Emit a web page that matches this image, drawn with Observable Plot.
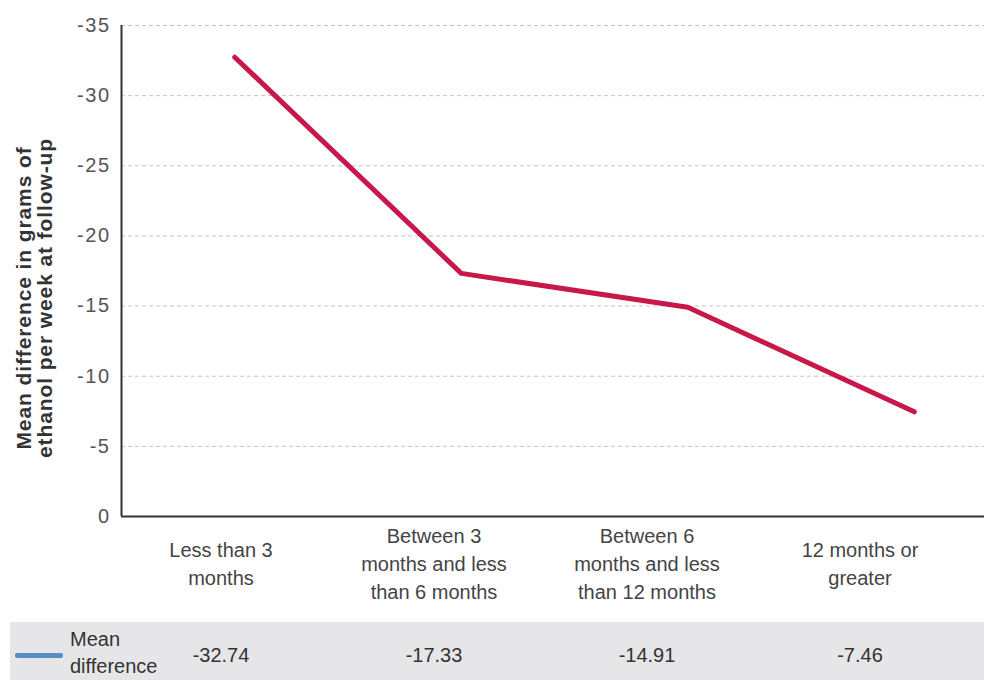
<!DOCTYPE html>
<html>
<head>
<meta charset="utf-8">
<script src="https://cdn.jsdelivr.net/npm/d3@7"></script>
<script src="https://cdn.jsdelivr.net/npm/@observablehq/plot@0.6"></script>
<style>
  body { margin: 0; background: #fff; font-family: "Liberation Sans", Arial, sans-serif; }
  #wrap { position: relative; width: 984px; height: 680px; overflow: hidden; background: #fff; }
  #chart, #axis { position: absolute; left: 0; }
  #chart { top: 0; }
  #axis { top: 530px; }
  #tablebg { position: absolute; left: 10px; top: 622px; width: 974px; height: 58px; background: #e6e6e9; }
  #swatch { position: absolute; left: 5px; top: 31px; width: 48px; height: 5px; background: #5a8cc4; border-radius: 2px; }
  #legtext { position: absolute; left: 60px; top: 4px; font-size: 20px; line-height: 27px; color: #333; }
  svg text { font-family: "Liberation Sans", Arial, sans-serif; }
</style>
</head>
<body>
<div id="wrap">
  <div id="tablebg"><div id="swatch"></div><div id="legtext"></div></div>
  <div id="chart"></div>
  <div id="axis"></div>
</div>
<script>
const categories = ["Less than 3 months", "Between 3 months and less than 6 months", "Between 6 months and less than 12 months", "12 months or greater"];
const tickLabels = ["Less than 3\nmonths", "Between 3\nmonths and less\nthan 6 months", "Between 6\nmonths and less\nthan 12 months", "12 months or\ngreater"];
const meanDifference = [-32.74, -17.33, -14.91, -7.46];
const yTicks = [-35, -30, -25, -20, -15, -10, -5, 0];
const seriesName = "Mean difference";
const yLabel = "Mean difference in grams of\nethanol per week at follow-up";

const rows = meanDifference.map((v, i) => ({i, v, c: categories[i]}));

const chart = Plot.plot({
  width: 984, height: 530,
  marginTop: 25, marginBottom: 14, marginLeft: 121, marginRight: 0,
  style: {background: "transparent", overflow: "visible"},
  x: {type: "linear", domain: [-0.5, 3.31], axis: null},
  y: {domain: [0, -35], axis: null},
  marks: [
    Plot.gridY(yTicks.filter(d => d !== 0), {stroke: "#c4c4c4", strokeOpacity: 1, strokeDasharray: "4,3"}),
    Plot.axisY(yTicks, {tickSize: 0, tickPadding: 11, fontSize: 20, fill: "#555", tickFormat: d => String(d), label: null}),
    Plot.ruleX([-0.5], {stroke: "#333", strokeWidth: 2}),
    Plot.ruleY([0], {stroke: "#333", strokeWidth: 2}),
    Plot.line(rows, {x: "i", y: "v", stroke: "#c8184a", strokeWidth: 5, strokeLinecap: "round", strokeLinejoin: "round"}),
    Plot.text([yLabel], {frameAnchor: "left", rotate: -90, dx: -87, dy: 27, fontWeight: "bold", fontSize: 21, lineHeight: 1, fill: "#333", lineAnchor: "middle", textAnchor: "middle"})
  ]
});
d3.select(chart).selectAll('g[aria-label="y-axis tick label"] text').style("letter-spacing", "1.5px");
d3.select(chart).selectAll('g[aria-label="text"] text').style("letter-spacing", "0.9px");
document.getElementById("chart").append(chart);

const axis = Plot.plot({
  width: 984, height: 150,
  marginTop: 0, marginBottom: 0, marginLeft: 113, marginRight: 17,
  style: {background: "transparent", overflow: "visible"},
  x: {type: "band", domain: categories, padding: 0, axis: null},
  marks: [
    Plot.text(categories, {x: d => d, text: (d, i) => tickLabels[i], frameAnchor: "top", dy: 32, lineAnchor: "middle", lineHeight: 1.4, fontSize: 20, fill: "#444"}),
    Plot.text(rows, {x: "c", text: d => d.v.toFixed(2), frameAnchor: "top", dy: 125, lineAnchor: "middle", fontSize: 20, fill: "#333"})
  ]
});
document.getElementById("axis").append(axis);

document.getElementById("legtext").innerHTML = seriesName.replace(" ", "<br>");
</script>
</body>
</html>
